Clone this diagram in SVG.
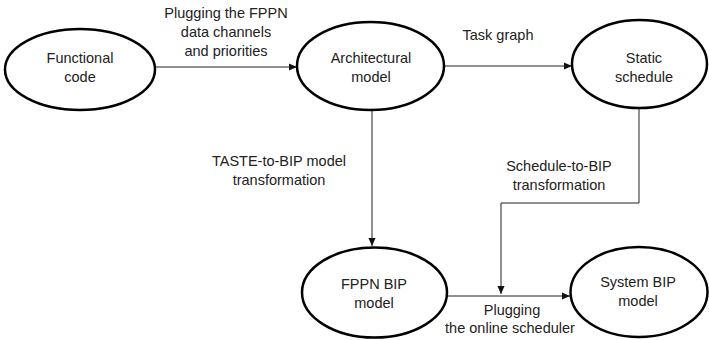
<svg xmlns="http://www.w3.org/2000/svg" width="709" height="340" viewBox="0 0 709 340">
<defs>
<style>
.node ellipse{fill:#fff;stroke:#000;stroke-width:2.5}
text{font-family:"Liberation Sans",Arial,sans-serif;font-size:14.5px;fill:#222;text-anchor:middle}
.edge{fill:none;stroke:#222;stroke-width:1}
</style>
<marker id="ah" viewBox="0 0 10 10" refX="10" refY="5" markerWidth="8" markerHeight="8" markerUnits="userSpaceOnUse" orient="auto">
<path d="M0,0.5 L10,5 L0,9.5 z" fill="#111"/>
</marker>
</defs>
<rect width="709" height="340" fill="#fff"/>
<g id="connectors">
<path class="edge" d="M155,67 H297" marker-end="url(#ah)"/>
<path class="edge" d="M444,66 H572" marker-end="url(#ah)"/>
<path class="edge" d="M372,110 V246" marker-end="url(#ah)"/>
<path class="edge" d="M639,108 V203 H501 V294" marker-end="url(#ah)"/>
<path class="edge" d="M447,296 H570" marker-end="url(#ah)"/>
<text x="226" y="18">Plugging the FPPN</text>
<text x="226" y="37">data channels</text>
<text x="226" y="56">and priorities</text>
<text x="498" y="40">Task graph</text>
<text x="279" y="166">TASTE-to-BIP model</text>
<text x="279" y="185">transformation</text>
<text x="559" y="171">Schedule-to-BIP</text>
<text x="559" y="190">transformation</text>
<text x="512" y="315">Plugging</text>
<text x="510" y="333">the online scheduler</text>
</g>
<g id="functional" class="node">
<ellipse cx="80" cy="69.5" rx="75" ry="40.5"/>
<text x="80" y="63">Functional</text>
<text x="80" y="82">code</text>
</g>
<g id="architectural" class="node">
<ellipse cx="370.5" cy="66" rx="73.5" ry="44"/>
<text x="371" y="63">Architectural</text>
<text x="371" y="82">model</text>
</g>
<g id="static" class="node">
<ellipse cx="639.5" cy="64" rx="67.5" ry="44"/>
<text x="644" y="63">Static</text>
<text x="644" y="82">schedule</text>
</g>
<g id="fppn" class="node">
<ellipse cx="374.5" cy="292.5" rx="72.5" ry="45"/>
<text x="374" y="289">FPPN BIP</text>
<text x="374" y="308">model</text>
</g>
<g id="system" class="node">
<ellipse cx="639" cy="292" rx="68.5" ry="45"/>
<text x="638" y="287">System BIP</text>
<text x="638" y="306">model</text>
</g>
</svg>
